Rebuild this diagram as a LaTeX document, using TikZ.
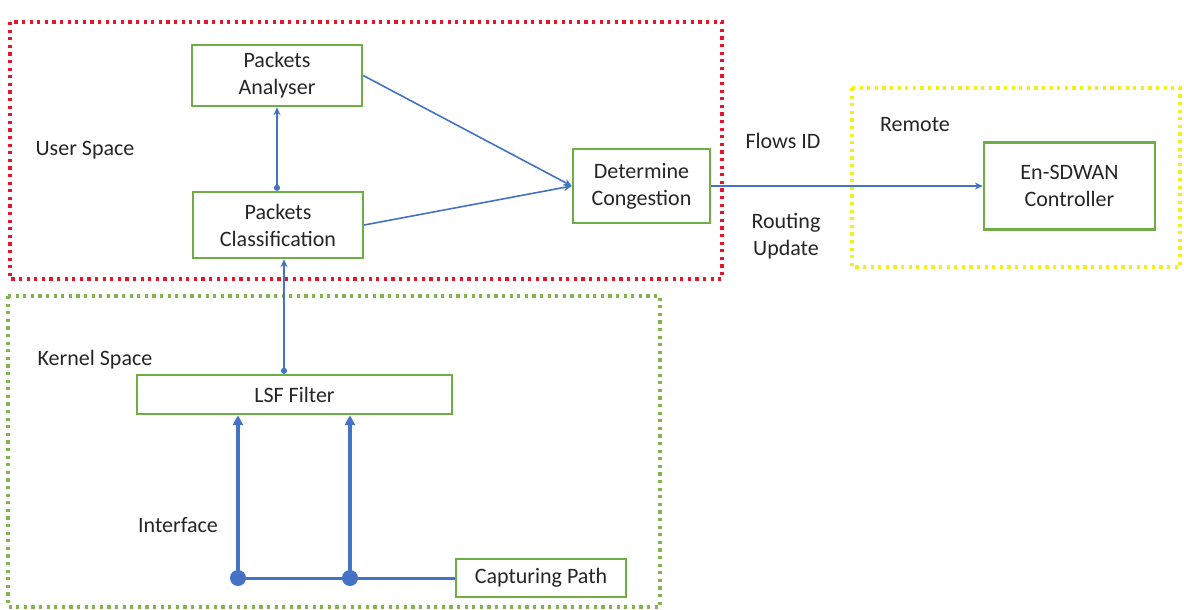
\documentclass[tikz,border=0pt]{standalone}
\usepackage{fontspec}
\setmainfont{Carlito}
\usetikzlibrary{arrows.meta}
\definecolor{boxgreen}{RGB}{112,173,71}
\definecolor{zonegreen}{RGB}{130,180,80}
\definecolor{zonered}{RGB}{230,20,45}
\definecolor{zoneyellow}{RGB}{245,240,20}
\definecolor{linkblue}{RGB}{68,114,196}
\definecolor{txt}{RGB}{38,38,38}
\tikzset{
  procbox/.style={draw=boxgreen, line width=1.2pt, fill=white, align=center,
    text=txt, inner sep=0pt},
  zone/.style={line width=1.6pt, dash pattern=on 1.6pt off 2.2pt},
  lbl/.style={text=txt, align=center, inner sep=0pt},
  link/.style={draw=linkblue, line width=0.8pt},
  thinarrow/.style={link, -{Stealth[length=4pt,width=3.5pt]}},
  dotarrow/.style={link, {Circle[length=3pt]}-{Stealth[length=4pt,width=3.5pt]}},
  bigarrow/.style={draw=linkblue, line width=2.4pt, -{Triangle[length=5pt,width=5pt]}},
}
\begin{document}
\fontsize{11}{13.5}\selectfont
\begin{tikzpicture}[x=0.5pt, y=-0.5pt]
\useasboundingbox (0,0) rectangle (1184,610);
\fill[white] (0,0) rectangle (1184,610);

% zones
\draw[zone, draw=zonered] (10,22) rectangle (722,279);
\draw[zone, draw=zonegreen] (8,296) rectangle (660,607);
\draw[zone, draw=zoneyellow] (852,88) rectangle (1180,267);

% zone labels
\node[lbl] (user) at (85,150) {User Space};
\node[lbl] (kern) at (95,360) {Kernel Space};
\node[lbl] (remote) at (915,125) {Remote};
\node[lbl] (iface) at (178,525) {Interface};
\node[lbl] (flows) at (783,141) {Flows ID};
\node[lbl] (route) at (786,236) {Routing\\Update};

% processing blocks
\node[procbox, minimum width=85pt, minimum height=30.5pt] (ana) at (277,75.5) {Packets\\Analyser};
\node[procbox, minimum width=85pt, minimum height=33pt] (cls) at (278,225) {Packets\\Classification};
\node[procbox, minimum width=68.5pt, minimum height=37pt] (dc) at (641.5,186) {Determine\\Congestion};
\node[procbox, minimum width=85.5pt, minimum height=43.5pt] (ctl) at (1069.5,186) {En-SDWAN\\Controller};
\node[procbox, minimum width=157.5pt, minimum height=19.5pt] (lsf) at (294.5,394.5) {LSF Filter};
\node[procbox, minimum width=85pt, minimum height=19pt] (cap) at (541,578) {Capturing Path};

% user-space links
\draw[dotarrow] ([xshift=-0.5pt]cls.north) -- ([xshift=-0.5pt]cls.north |- ana.south);
\draw[thinarrow] (ana.east) -- (dc.west);
\draw[thinarrow] (cls.east) -- (dc.west);
\draw[thinarrow] (dc.east) -- (ctl.west);

% kernel to user space
\draw[dotarrow] ([xshift=3pt]cls.south |- lsf.north) -- ([xshift=3pt]cls.south);

% capture taps
\coordinate (d1) at (238,578);
\coordinate (d2) at (350,578);
\draw[draw=linkblue, line width=1.5pt] (cap.west) -- (d1);
\draw[bigarrow] (d1) -- (d1 |- lsf.south);
\draw[bigarrow] (d2) -- (d2 |- lsf.south);
\fill[linkblue] (d1) circle (4pt);
\fill[linkblue] (d2) circle (4pt);
\end{tikzpicture}
\end{document}
